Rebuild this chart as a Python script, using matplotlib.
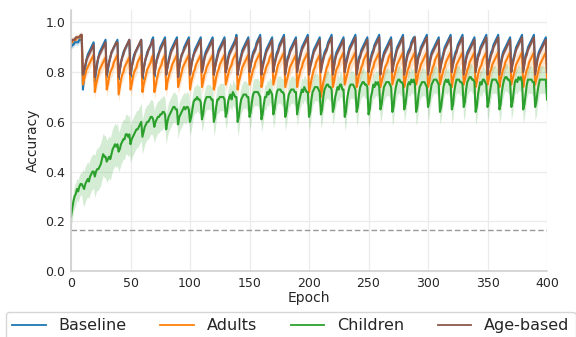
import numpy as np
import matplotlib
matplotlib.use("Agg")
import matplotlib.pyplot as plt

# Mean accuracy per epoch (in percent), one row per 10-epoch cycle, plus epoch 400.
baseline_pct = [
    90, 91, 91, 92, 92, 92, 92, 93, 93, 93,
    73, 78, 82, 85, 87, 88, 89, 90, 91, 92,
    76, 80, 83, 86, 88, 89, 90, 91, 92, 93,
    78, 81, 84, 86, 88, 89, 90, 91, 92, 93,
    77, 81, 84, 86, 88, 89, 90, 91, 92, 93,
    78, 82, 85, 87, 88, 89, 90, 91, 92, 93,
    77, 81, 84, 86, 88, 89, 90, 91, 93, 94,
    78, 82, 85, 87, 88, 90, 91, 92, 93, 94,
    79, 82, 85, 87, 89, 90, 91, 92, 93, 94,
    78, 82, 85, 87, 88, 90, 91, 92, 93, 94,
    79, 83, 85, 87, 89, 90, 91, 92, 93, 94,
    80, 83, 86, 88, 89, 90, 91, 92, 93, 94,
    79, 82, 85, 87, 89, 90, 91, 92, 93, 94,
    80, 83, 86, 88, 89, 90, 91, 92, 93, 95,
    79, 83, 85, 87, 89, 90, 91, 92, 93, 94,
    80, 83, 86, 88, 89, 90, 92, 93, 94, 95,
    80, 83, 85, 87, 89, 90, 91, 92, 93, 94,
    81, 84, 86, 88, 89, 91, 92, 93, 94, 95,
    80, 83, 86, 87, 89, 90, 91, 92, 93, 94,
    81, 84, 86, 88, 90, 91, 92, 93, 94, 95,
    80, 83, 85, 87, 89, 90, 91, 92, 93, 94,
    81, 84, 86, 88, 89, 90, 92, 93, 94, 95,
    80, 83, 86, 88, 89, 90, 91, 92, 93, 94,
    81, 84, 86, 88, 90, 91, 92, 93, 94, 95,
    80, 83, 86, 87, 89, 90, 91, 92, 93, 94,
    81, 84, 86, 88, 89, 91, 92, 93, 94, 95,
    80, 84, 86, 88, 89, 90, 91, 92, 93, 94,
    81, 84, 86, 88, 90, 91, 92, 93, 94, 95,
    80, 83, 86, 88, 89, 90, 92, 93, 94, 94,
    81, 84, 87, 88, 90, 91, 92, 93, 94, 95,
    80, 83, 86, 88, 89, 90, 91, 92, 93, 94,
    81, 84, 86, 88, 90, 91, 92, 93, 94, 95,
    81, 84, 86, 88, 89, 91, 92, 93, 94, 95,
    80, 83, 86, 88, 89, 90, 91, 92, 93, 94,
    81, 84, 87, 88, 90, 91, 92, 93, 94, 95,
    80, 84, 86, 88, 89, 91, 92, 93, 94, 95,
    80, 83, 86, 88, 89, 90, 91, 92, 93, 94,
    81, 84, 86, 88, 90, 91, 92, 93, 94, 95,
    81, 84, 87, 88, 90, 91, 92, 93, 94, 95,
    80, 83, 86, 88, 89, 90, 91, 92, 93, 94,
    82,
]

adults_pct = [
    92, 92, 93, 93, 93, 94, 94, 94, 94, 95,
    75, 77, 79, 81, 82, 83, 84, 85, 86, 87,
    72, 75, 77, 79, 81, 82, 83, 84, 85, 86,
    73, 75, 78, 80, 81, 82, 84, 85, 86, 87,
    71, 74, 77, 79, 80, 82, 83, 84, 85, 86,
    73, 75, 78, 80, 81, 82, 84, 85, 86, 87,
    72, 75, 77, 79, 81, 82, 83, 84, 86, 87,
    72, 74, 77, 79, 81, 82, 83, 85, 86, 87,
    73, 76, 78, 80, 81, 83, 84, 85, 86, 87,
    74, 76, 78, 80, 82, 83, 84, 85, 86, 87,
    73, 76, 78, 80, 81, 83, 84, 85, 86, 87,
    74, 76, 79, 80, 82, 83, 84, 85, 86, 87,
    73, 75, 78, 80, 81, 83, 84, 85, 86, 87,
    75, 77, 79, 81, 82, 83, 85, 86, 87, 88,
    73, 76, 78, 80, 82, 83, 84, 85, 86, 87,
    75, 77, 79, 81, 82, 84, 85, 86, 87, 88,
    74, 76, 79, 80, 82, 83, 84, 86, 87, 88,
    75, 77, 79, 81, 83, 84, 85, 86, 87, 88,
    74, 76, 78, 80, 82, 83, 84, 85, 86, 87,
    74, 77, 79, 81, 82, 84, 85, 86, 87, 88,
    72, 74, 77, 79, 81, 82, 84, 85, 86, 87,
    70, 73, 76, 78, 80, 82, 83, 85, 86, 87,
    74, 76, 79, 81, 82, 83, 85, 86, 87, 88,
    75, 77, 79, 81, 83, 84, 85, 86, 87, 88,
    74, 76, 79, 80, 82, 83, 85, 86, 87, 88,
    75, 77, 79, 81, 82, 84, 85, 86, 87, 88,
    74, 76, 78, 80, 82, 83, 84, 86, 87, 88,
    75, 77, 79, 81, 83, 84, 85, 86, 87, 88,
    74, 77, 79, 81, 82, 84, 85, 86, 87, 88,
    75, 77, 80, 81, 83, 84, 85, 86, 87, 88,
    74, 76, 79, 80, 82, 83, 85, 86, 87, 88,
    75, 77, 79, 81, 82, 84, 85, 86, 87, 88,
    74, 77, 79, 81, 83, 84, 85, 86, 87, 88,
    75, 77, 79, 81, 82, 84, 85, 86, 87, 88,
    74, 76, 79, 81, 82, 83, 85, 86, 87, 88,
    75, 77, 80, 81, 83, 84, 85, 86, 87, 88,
    74, 77, 79, 81, 82, 84, 85, 86, 87, 88,
    75, 77, 79, 81, 83, 84, 85, 86, 87, 88,
    74, 77, 79, 81, 82, 84, 85, 86, 87, 88,
    75, 77, 79, 81, 83, 84, 85, 86, 87, 88,
    77,
]

children_pct = [
    22, 25, 28, 30, 31, 33, 32, 34, 35, 35,
    34, 33, 35, 36, 37, 36, 38, 39, 40, 40,
    38, 40, 41, 41, 42, 43, 45, 47, 46, 46,
    44, 45, 46, 45, 47, 49, 50, 51, 50, 51,
    48, 49, 51, 52, 53, 53, 55, 55, 54, 55,
    51, 53, 54, 55, 56, 57, 57, 58, 59, 60,
    54, 56, 58, 59, 60, 60, 61, 62, 62, 61,
    58, 60, 61, 62, 62, 63, 63, 64, 64, 63,
    57, 60, 62, 63, 64, 65, 66, 66, 65, 65,
    59, 62, 63, 64, 65, 66, 65, 66, 66, 65,
    60, 62, 65, 68, 69, 69, 70, 69, 69, 68,
    61, 63, 67, 69, 70, 70, 70, 70, 69, 69,
    60, 62, 66, 69, 69, 70, 70, 70, 70, 69,
    62, 64, 68, 70, 71, 69, 72, 71, 70, 70,
    60, 62, 66, 69, 70, 71, 71, 71, 70, 70,
    62, 64, 68, 71, 72, 72, 72, 72, 71, 70,
    61, 63, 67, 70, 70, 72, 71, 73, 72, 71,
    63, 65, 69, 72, 73, 73, 73, 72, 72, 71,
    62, 64, 68, 71, 72, 73, 73, 73, 72, 72,
    63, 66, 69, 71, 73, 72, 74, 73, 72, 72,
    62, 64, 69, 72, 73, 74, 74, 74, 73, 72,
    63, 65, 70, 73, 74, 75, 75, 74, 74, 73,
    64, 66, 70, 72, 74, 73, 75, 75, 73, 73,
    62, 64, 69, 72, 74, 75, 75, 75, 74, 73,
    64, 66, 71, 74, 75, 76, 76, 75, 75, 74,
    63, 65, 70, 72, 75, 74, 76, 75, 76, 74,
    65, 67, 71, 74, 75, 76, 76, 76, 75, 74,
    64, 66, 71, 74, 76, 77, 77, 76, 76, 75,
    65, 67, 71, 75, 76, 75, 77, 76, 77, 75,
    64, 66, 71, 74, 75, 76, 76, 76, 75, 74,
    66, 68, 72, 75, 76, 77, 77, 77, 76, 75,
    64, 66, 70, 74, 76, 77, 76, 77, 75, 75,
    65, 67, 72, 75, 77, 77, 77, 76, 76, 75,
    66, 68, 73, 76, 77, 78, 78, 77, 77, 76,
    64, 66, 71, 74, 76, 75, 77, 77, 76, 75,
    66, 68, 72, 75, 77, 77, 77, 77, 76, 75,
    65, 67, 72, 75, 77, 78, 78, 77, 77, 76,
    66, 68, 72, 76, 77, 76, 78, 77, 78, 76,
    65, 67, 71, 75, 77, 77, 77, 77, 76, 76,
    66, 68, 72, 75, 77, 77, 77, 77, 77, 77,
    69,
]

age_based_pct = [
    92, 93, 93, 93, 94, 94, 94, 94, 95, 95,
    79, 81, 83, 85, 86, 87, 88, 89, 90, 91,
    78, 81, 84, 86, 87, 88, 89, 90, 91, 92,
    79, 82, 84, 86, 88, 89, 90, 91, 92, 92,
    78, 81, 84, 86, 87, 89, 90, 91, 92, 93,
    79, 82, 84, 86, 88, 89, 90, 91, 92, 93,
    78, 81, 84, 86, 87, 89, 90, 91, 92, 93,
    79, 82, 85, 86, 88, 89, 90, 91, 92, 93,
    79, 82, 84, 86, 88, 89, 90, 91, 92, 93,
    78, 82, 85, 87, 88, 89, 90, 91, 92, 93,
    79, 82, 85, 87, 88, 89, 90, 91, 92, 93,
    80, 82, 85, 87, 88, 89, 90, 91, 92, 93,
    79, 82, 84, 86, 88, 89, 90, 91, 92, 93,
    80, 82, 85, 87, 88, 89, 90, 91, 92, 94,
    79, 82, 84, 86, 88, 89, 90, 91, 92, 93,
    80, 83, 85, 87, 88, 89, 91, 92, 93, 94,
    79, 82, 84, 86, 88, 89, 90, 91, 92, 93,
    80, 83, 85, 87, 88, 90, 91, 92, 93, 94,
    79, 82, 85, 86, 88, 89, 90, 91, 92, 93,
    80, 83, 85, 87, 89, 90, 91, 92, 93, 94,
    79, 82, 84, 86, 88, 89, 90, 91, 92, 93,
    80, 83, 85, 87, 88, 89, 91, 92, 93, 94,
    79, 82, 85, 87, 88, 89, 90, 91, 92, 93,
    80, 83, 85, 87, 89, 90, 91, 92, 93, 94,
    79, 82, 85, 86, 88, 89, 90, 91, 92, 93,
    80, 83, 85, 87, 88, 90, 91, 92, 93, 94,
    79, 83, 85, 87, 88, 89, 90, 91, 92, 93,
    80, 83, 85, 87, 89, 90, 91, 92, 93, 94,
    79, 82, 85, 87, 88, 89, 91, 92, 93, 94,
    80, 83, 86, 87, 89, 90, 91, 92, 93, 94,
    79, 82, 85, 87, 88, 89, 90, 91, 92, 93,
    80, 83, 85, 87, 89, 90, 91, 92, 93, 94,
    80, 83, 85, 87, 88, 90, 91, 92, 93, 94,
    79, 82, 85, 87, 88, 89, 90, 91, 92, 93,
    80, 83, 86, 87, 89, 90, 91, 92, 93, 94,
    79, 83, 85, 87, 88, 90, 91, 92, 93, 94,
    79, 82, 85, 87, 88, 89, 90, 91, 92, 93,
    80, 83, 85, 87, 89, 90, 91, 92, 93, 94,
    80, 83, 86, 87, 89, 90, 91, 92, 93, 94,
    79, 82, 85, 87, 88, 89, 90, 91, 92, 93,
    80,
]

# Half-width of the shaded spread across runs (percent), per 10-epoch cycle (last entry: epoch 400).
baseline_spread = [1.2] * 41
adults_spread = [1.0, 2.5, 3.0, 3.0, 3.0, 3.0, 3.0, 3.0, 3.0, 3.0,
                 3.0, 3.0, 3.0, 3.0, 3.0, 3.0, 3.0, 3.0, 3.5, 3.5,
                 3.5, 3.5, 3.5, 3.5, 3.5, 3.5, 3.5, 3.5, 3.5, 3.5,
                 3.5, 3.5, 3.5, 3.5, 3.5, 3.5, 3.5, 3.5, 3.5, 3.5, 3.5]
children_spread = [4.5, 7.0, 8.5, 8.5, 8.0, 7.5, 7.0, 6.5, 6.0, 6.0,
                   5.5, 5.0, 5.5, 5.0, 5.5, 5.5, 5.0, 5.5, 5.5, 5.0,
                   5.5, 5.5, 5.0, 5.5, 5.5, 5.0, 5.5, 5.5, 5.0, 5.5,
                   5.5, 5.0, 5.5, 5.5, 5.0, 5.5, 5.5, 5.0, 5.5, 5.5, 5.5]
age_based_spread = [1.2] * 41

series_names = ["Baseline", "Adults", "Children", "Age-based"]
series_colors = ["#1f77b4", "#ff7f0e", "#2ca02c", "#8c564b"]
chance_level = 1 / 6

x_ticks = [0, 50, 100, 150, 200, 250, 300, 350, 400]
y_ticks = [0.0, 0.2, 0.4, 0.6, 0.8, 1.0]

plt.rcParams["font.family"] = ["DejaVu Sans"]
text_color = "#262626"

fig = plt.figure(figsize=(5.76, 3.37), dpi=100)
ax = fig.add_axes([0.1233, 0.1958, 0.8264, 0.7745])

epochs = np.arange(len(baseline_pct))


def per_epoch(spread):
    # one spread value per cycle, applied to each epoch of that cycle
    return np.array([spread[min(e // 10, len(spread) - 1)] for e in epochs])


all_means = [baseline_pct, adults_pct, children_pct, age_based_pct]
all_spreads = [baseline_spread, adults_spread, children_spread, age_based_spread]

for name, color, mean_pct, spread in zip(series_names, series_colors, all_means, all_spreads):
    mean = np.array(mean_pct) / 100.0
    half = per_epoch(spread) / 100.0
    ax.fill_between(epochs, mean - half, mean + half, color=color, alpha=0.2, lw=0)
    ax.plot(epochs, mean, color=color, lw=1.5, label=name)

ax.axhline(chance_level, color="#999999", lw=1.0, ls=(0, (4, 2)))

ax.set_xlim(0, 400)
ax.set_ylim(0, 1.05)
ax.set_xticks(x_ticks)
ax.set_yticks(y_ticks)
ax.set_yticklabels([f"{v:.1f}" for v in y_ticks])
ax.tick_params(axis="both", length=0, labelsize=9, colors=text_color, pad=4)
ax.grid(True, color="#ebebeb", lw=0.9)
ax.set_axisbelow(True)
for side in ["top", "right"]:
    ax.spines[side].set_visible(False)
for side in ["left", "bottom"]:
    ax.spines[side].set_color("#cccccc")
    ax.spines[side].set_linewidth(1.1)

ax.set_xlabel("Epoch", fontsize=10, color=text_color, labelpad=1)
ax.set_ylabel("Accuracy", fontsize=10, color=text_color, labelpad=4)

leg = fig.legend(loc="upper center", bbox_to_anchor=(0.505, 1 - 312 / 337), ncol=4,
                 fontsize=11.5, frameon=True, fancybox=True, handlelength=2.1,
                 columnspacing=2.1, borderpad=0.4, borderaxespad=0)
leg.get_frame().set_edgecolor("#cccccc")
for t in leg.get_texts():
    t.set_color(text_color)
for h in leg.get_lines():
    h.set_linewidth(1.3)

fig.savefig("out.png", dpi=100)
